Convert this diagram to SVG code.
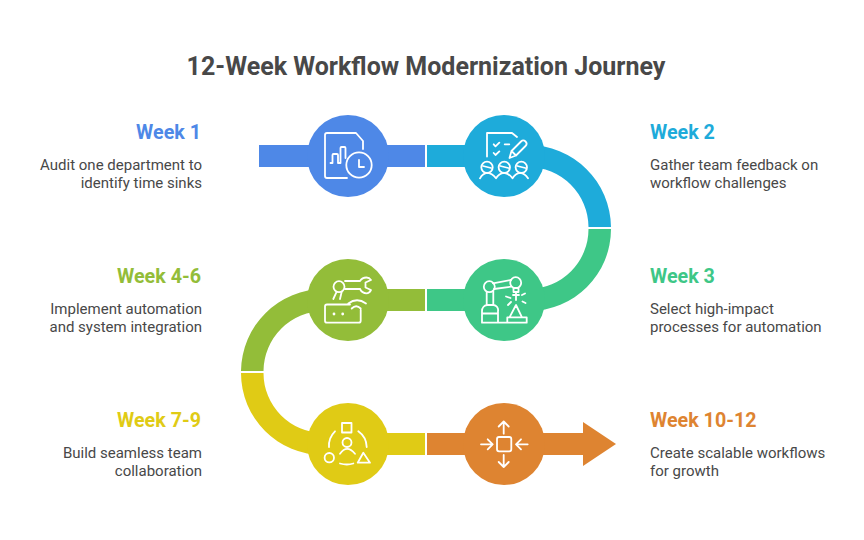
<svg xmlns="http://www.w3.org/2000/svg" width="864" height="540" viewBox="0 0 864 540">
<style>
text{font-family:Roboto,"Liberation Sans",sans-serif;fill:#484848}
.t{font-size:25px;font-weight:700;text-anchor:middle}
.h{font-size:19.700px;font-weight:700}
.b{font-size:15px}
.e{text-anchor:end}
.i{fill:none;stroke:#fff;stroke-width:1.800;stroke-linecap:round;stroke-linejoin:round}
.c1{fill:#4e88e7}.c2{fill:#1eabda}.c3{fill:#3ec787}.c4{fill:#93bd39}.c5{fill:#e0cb15}.c6{fill:#de8431}
</style>
<rect width="864" height="540" fill="#fff"/>
<text class="t" x="426" y="75">12-Week Workflow Modernization Journey</text>
<g id="connectors">
<rect class="c1" x="259" y="145" width="166" height="22"/>
<path class="c2" d="M427 145H528A83 83 0 0 1 611 227H588.500A60.500 60.500 0 0 0 528 167H427Z"/>
<path class="c3" d="M611 229A82 82 0 0 1 529 311H427V289H529A60 60 0 0 0 588.500 229Z"/>
<path class="c4" d="M425 289H324A83 83 0 0 0 241 371H263.500A60.500 60.500 0 0 1 324 311H425Z"/>
<path class="c5" d="M241 373A82 82 0 0 0 323 455H425V433H323A60 60 0 0 1 263.500 373Z"/>
<path class="c6" d="M427 433H583V422L616 444L583 466V455H427Z"/>
</g>
<g id="week1">
<circle class="c1" cx="348" cy="156" r="41"/>
<path class="i" d="M363 149V141L356 133H327a2 2 0 0 0-2 2V176a2 2 0 0 0 2 2H347M330.500 163h2V155a1 1 0 0 1 1-1h3.500a1 1 0 0 1 1 1v8h2.500V148a1 1 0 0 1 1-1h3a1 1 0 0 1 1 1v10"/>
<circle class="i" cx="359" cy="165" r="12.700"/>
<path class="i" d="M359 160V167H364"/>
<text class="h e" x="201" y="139" style="fill:#4e88e7">Week 1</text>
<text class="b e" x="202" y="170">Audit one department to</text>
<text class="b e" x="202" y="188">identify time sinks</text>
</g>
<g id="week2">
<circle class="c2" cx="504" cy="156" r="41"/>
<path class="i" d="M487 156.500V133H512L517 137M493.700 144.300L495.500 146.300L499.300 142.700M493.700 153L495.500 155L499.300 151.400M504.700 144.300H509.300M509.500 158l2-7L521 141.500a3 3 0 0 1 4.500 4.500L516 155.500ZM511.500 151l4.500 4.500"/>
<circle class="i" cx="487" cy="167.300" r="5.700"/><circle class="i" cx="504.300" cy="167.300" r="5.700"/><circle class="i" cx="521.300" cy="167.300" r="5.700"/>
<path class="i" d="M483 166l8 2M500.300 166l8 2M517.300 166l8 2M480 178.300q2.500-5 7.500-5.500q5 .5 8.500 5.500q3-5 8-5.500q5 .5 8.500 5.500q3-5 7.500-5.500q5 .5 8 5.500"/>
<text class="h" x="650" y="139" style="fill:#1eabda">Week 2</text>
<text class="b" x="650" y="170">Gather team feedback on</text>
<text class="b" x="650" y="188">workflow challenges</text>
</g>
<g id="week3">
<circle class="c3" cx="504" cy="300" r="41"/>
<path class="i" d="M482 322.700V311a6 6 0 0 1 5-6h6.500a5 5 0 0 1 4.500 6V322.700ZM482 313.500H498M486.700 305V292M493.300 305V291M493 283.300L511 280M494 289L511 286.700M513.500 288H518.500V292H513.500ZM516 292V300M513 295H519M506 296.500L510.500 298M508 305L511 302M522 295l3-1.500M522.500 301.500l3 1.500M516 305L509.500 317.300H522ZM507.300 317.300H526.700V322.700H507.300ZM498 322.700H507.300"/>
<circle class="i" cx="489.300" cy="286.700" r="5.500"/><circle class="i" cx="515.700" cy="282.700" r="5.500"/>
<text class="h" x="650" y="283" style="fill:#3ec787">Week 3</text>
<text class="b" x="650" y="314">Select high-impact</text>
<text class="b" x="650" y="332">processes for automation</text>
</g>
<g id="week4-6">
<circle class="c4" cx="348" cy="300" r="41"/>
<path class="i" d="M350 304.500H327a2 2 0 0 0-2 2V320.700a2 2 0 0 0 2 2H358.700a2 2 0 0 0 2-2V310M348.300 303.500Q357 297 366 303.500M351.700 308.500Q356.200 304 360.700 308.500M336.700 291.700L333.300 299M341.700 291.700L340 299M345 281H360M345 289H360M360 281C361.500 278.500 364 277.500 366.500 277.500C368.500 277.500 370 278.500 371 280L365.500 282.500V287.500L371 290C370 292 368.500 293.300 366.500 293.300C364 293.300 361.500 292 360 289"/>
<circle class="i" cx="339" cy="286.700" r="5.500"/>
<circle cx="334" cy="314" r="1.400" fill="#fff"/><circle cx="342.700" cy="314" r="1.400" fill="#fff"/>
<text class="h e" x="201" y="283" style="fill:#93bd39">Week 4-6</text>
<text class="b e" x="202" y="314">Implement automation</text>
<text class="b e" x="202" y="332">and system integration</text>
</g>
<g id="week7-9">
<circle class="c5" cx="348" cy="444" r="41"/>
<rect class="i" x="342" y="423" width="9.500" height="9.500"/>
<circle class="i" cx="347" cy="442.500" r="4.500"/><circle class="i" cx="329.300" cy="457.700" r="4.700"/>
<path class="i" d="M340 453.700Q347 444 355 453.700M363.300 452.700L357.700 462.700H370ZM335 431.300A20 20 0 0 0 329 447M358.300 431.300A20 20 0 0 1 366.700 447M340 463.500Q347 465.500 353.300 463.500"/>
<text class="h e" x="201" y="427" style="fill:#e0cb15">Week 7-9</text>
<text class="b e" x="202" y="458">Build seamless team</text>
<text class="b e" x="202" y="476">collaboration</text>
</g>
<g id="week10-12">
<circle class="c6" cx="504" cy="444" r="41"/>
<rect class="i" x="497" y="437" width="14.300" height="14.300" rx="2"/>
<path class="i" d="M503.700 433.700V421.500M498.700 426.500L503.700 421.500L508.700 426.500M503.700 455V467M498.700 462L503.700 467L508.700 462M481 444.300H492.700M487.700 439.300L492.700 444.300L487.700 449.300M527.700 444.300H516M521 439.300L516 444.300L521 449.300"/>
<text class="h" x="650" y="427" style="fill:#de8431">Week 10-12</text>
<text class="b" x="650" y="458">Create scalable workflows</text>
<text class="b" x="650" y="476">for growth</text>
</g>
</svg>
